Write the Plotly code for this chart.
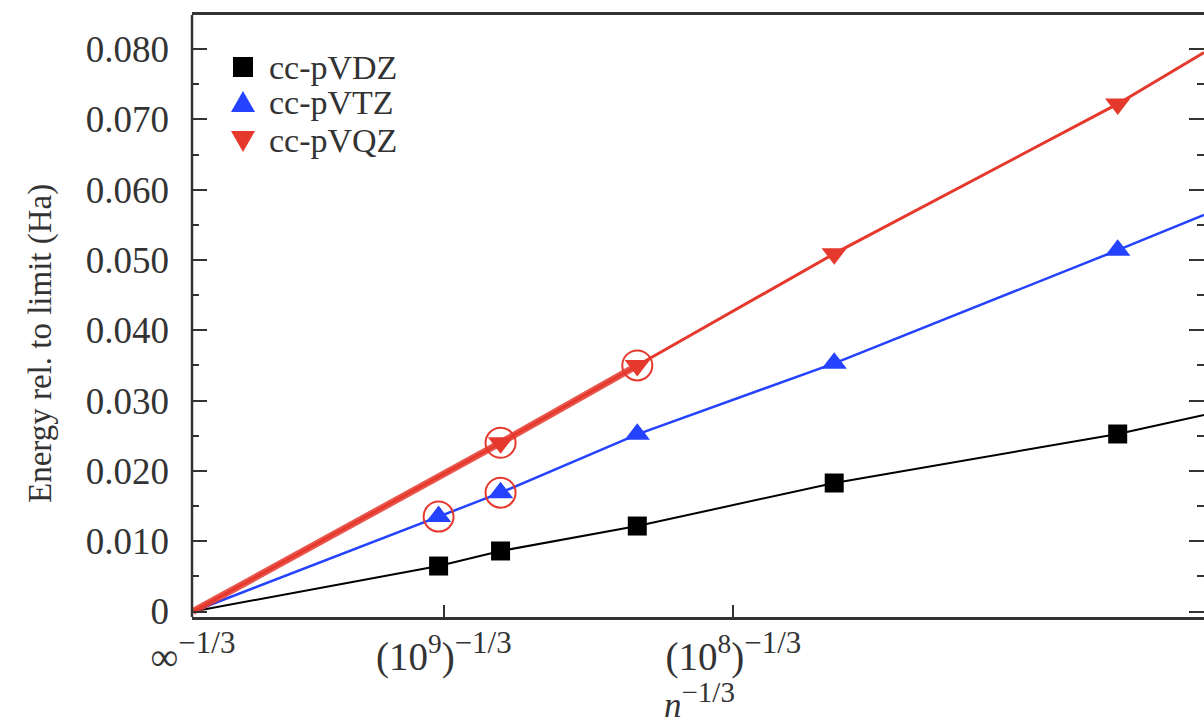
import plotly.graph_objects as go

# n^{-1/3} positions of the data points
x_pts = [0.000979, 0.001226, 0.001771, 0.002556, 0.003686]
x_edge = 0.00403  # right edge where the lines leave the frame

# Energies relative to the limit (Ha)
dz = [0.00647, 0.00861, 0.01216, 0.01828, 0.02525]
tz = [0.01350, 0.01690, 0.02520, 0.03530, 0.05140]
qz_x = [0.001226, 0.001771, 0.002556, 0.003686]
qz = [0.02400, 0.03500, 0.05090, 0.07220]

# line values at the right frame edge
dz_edge, tz_edge, qz_edge = 0.02795, 0.05640, 0.07950

# highlighted (circled) points
circ_x = [0.000979, 0.001226, 0.001226, 0.001771]
circ_y = [0.01350, 0.01690, 0.02400, 0.03500]

series_names = ["cc-pVDZ", "cc-pVTZ", "cc-pVQZ"]

y_ticks = [0, 0.01, 0.02, 0.03, 0.04, 0.05, 0.06, 0.07, 0.08]
y_ticktext = ["0", "0.010", "0.020", "0.030", "0.040", "0.050", "0.060", "0.070", "0.080"]
x_ticks = [0.0, 1e-3, 10 ** (-8 / 3)]
SUP = "<sup><span style='font-size:31px'>−1/3</span></sup>"
x_ticktext = ["∞" + SUP, "(10<sup>9</sup>)" + SUP, "(10<sup>8</sup>)" + SUP]

BLACK = "#000000"
BLUE = "#2442ff"
RED = "#e6392e"
TXT = "#333333"
FONT = "Liberation Serif"

# plot-area geometry (pixels) used to place the hand-drawn legend
L, T, W, H = 192, 15, 1012, 602


def px(xp):
    return (xp - L) / W


def py(yp):
    return (T + H - yp) / H


fig = go.Figure()

# lines (from the origin through the data to the frame edge)
fig.add_trace(go.Scatter(x=[0] + x_pts + [x_edge], y=[0] + dz + [dz_edge], mode="lines",
                         line=dict(color=BLACK, width=2), showlegend=False, hoverinfo="skip"))
fig.add_trace(go.Scatter(x=[0] + x_pts + [x_edge], y=[0] + tz + [tz_edge], mode="lines",
                         line=dict(color=BLUE, width=2.5), showlegend=False, hoverinfo="skip"))
fig.add_trace(go.Scatter(x=[0] + qz_x + [x_edge], y=[0] + qz + [qz_edge], mode="lines",
                         line=dict(color=RED, width=3), showlegend=False, hoverinfo="skip"))
# thick extrapolation segment of cc-pVQZ
fig.add_trace(go.Scatter(x=[0] + qz_x[:2], y=[0] + qz[:2], mode="lines",
                         line=dict(color=RED, width=7), opacity=0.85, showlegend=False, hoverinfo="skip"))

# markers
fig.add_trace(go.Scatter(x=x_pts, y=dz, mode="markers", name=series_names[0], showlegend=False,
                         marker=dict(symbol="square", size=19, color=BLACK)))
fig.add_trace(go.Scatter(x=x_pts, y=tz, mode="markers", name=series_names[1], showlegend=False,
                         marker=dict(symbol="triangle-up", size=22, color=BLUE)))
fig.add_trace(go.Scatter(x=qz_x, y=qz, mode="markers", name=series_names[2], showlegend=False,
                         marker=dict(symbol="triangle-down", size=22, color=RED)))
fig.add_trace(go.Scatter(x=circ_x, y=circ_y, mode="markers", showlegend=False,
                         marker=dict(symbol="circle-open", size=30, color=RED, line=dict(width=2, color=RED))))

# legend (drawn by hand to get the compact line spacing of the original)
leg_rows = [67, 103, 140]
leg_shapes = [
    dict(type="rect", x0=-10, x1=10, y0=-10, y1=10, fillcolor=BLACK),
    dict(type="path", path="M-12,-9 L12,-9 L0,12 Z", fillcolor=BLUE),
    dict(type="path", path="M-12,9 L12,9 L0,-12 Z", fillcolor=RED),
]
shapes = [dict(type="line", xref="paper", yref="paper", x0=0, x1=0, y0=0, y1=1,
               line=dict(color=TXT, width=2.5))]
annotations = []
for row, shp, name in zip(leg_rows, leg_shapes, series_names):
    s = dict(shp)
    s.update(xref="paper", yref="paper", xsizemode="pixel", ysizemode="pixel",
             xanchor=px(243), yanchor=py(row), line=dict(width=0))
    shapes.append(s)
    annotations.append(dict(text=name, xref="paper", yref="paper", x=px(267), y=py(row),
                            xanchor="left", yanchor="middle", showarrow=False,
                            font=dict(family=FONT, size=34, color=TXT)))

annotations += [
    dict(text="Energy rel. to limit (Ha)", xref="paper", yref="paper",
         x=px(40), y=py(344), textangle=-90, showarrow=False,
         font=dict(family=FONT, size=33, color=TXT), xanchor="center", yanchor="middle"),
    dict(text="<i>n</i><sup><span style='font-size:29px'>−1/3</span></sup>", xref="paper", yref="paper",
         x=px(699), y=py(700), showarrow=False,
         font=dict(family=FONT, size=35, color=TXT), xanchor="center", yanchor="middle"),
]

fig.update_layout(
    width=1204, height=725,
    margin=dict(l=L, r=0, t=T, b=725 - T - H),
    paper_bgcolor="white", plot_bgcolor="white",
    font=dict(family=FONT, color=TXT),
    showlegend=False,
    xaxis=dict(range=[-0.000004, x_edge], tickvals=x_ticks, ticktext=x_ticktext,
               ticks="inside", ticklen=12, tickwidth=2, tickcolor=TXT,
               showline=True, linecolor=TXT, linewidth=2.5, mirror=True,
               showgrid=False, zeroline=False, ticklabelstandoff=3,
               tickfont=dict(family=FONT, size=39, color=TXT)),
    yaxis=dict(range=[-0.00078, 0.08485], tickvals=y_ticks, ticktext=y_ticktext,
               ticks="inside", ticklen=15, tickwidth=2, tickcolor=TXT,
               minor=dict(dtick=0.005, tick0=0, ticks="inside", ticklen=7, tickwidth=2, tickcolor=TXT),
               showline=False, mirror="ticks",
               showgrid=False, zeroline=False, ticklabelstandoff=22,
               tickfont=dict(family=FONT, size=37, color=TXT)),
    shapes=shapes,
    annotations=annotations,
)

fig.write_html("out.html")
